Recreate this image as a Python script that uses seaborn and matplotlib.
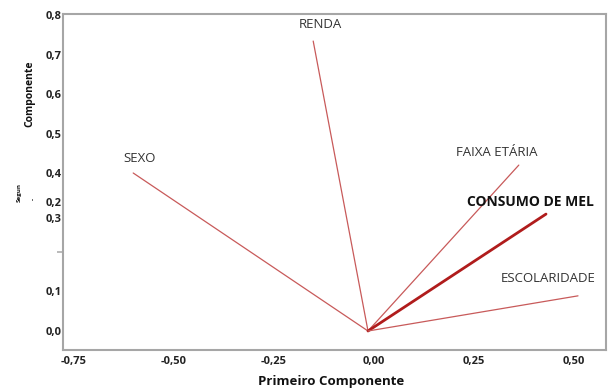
import numpy as np
import pandas as pd
import matplotlib
matplotlib.use("Agg")
import matplotlib.pyplot as plt
import matplotlib.transforms as mtransforms
import seaborn as sns

# ---- data ----
variables = ["RENDA", "SEXO", "FAIXA ETÁRIA", "CONSUMO DE MEL", "ESCOLARIDADE"]
pc1 = [-0.137, -0.587, 0.377, 0.445, 0.525]
pc2 = [0.734, 0.400, 0.420, 0.296, 0.089]
x_ticks = [-0.75, -0.50, -0.25, 0.00, 0.25, 0.50]
x_tick_labels = ["-0,75", "-0,50", "-0,25", "0,00", "0,25", "0,50"]
y_ticks = [0.0, 0.1, 0.2, 0.3, 0.4, 0.5, 0.6, 0.7, 0.8]
y_tick_labels = ["0,0", "0,1", "", "", "0,4", "0,5", "0,6", "0,7", "0,8"]
y_loose_labels = ["0,2", "0,3"]

sns.set_theme(style="white")
plt.rcParams["font.family"] = ["Open Sans", "DejaVu Sans"]

fig = plt.figure(figsize=(6.11, 3.92), dpi=100)
ax = fig.add_axes([63/611, 1-350/392, (606-63)/611, (350-14)/392])

rows = []
for v, a, b in zip(variables, pc1, pc2):
    rows.append({"var": v, "pc1": 0.0, "pc2": 0.0, "ord": 0})
    rows.append({"var": v, "pc1": a, "pc2": b, "ord": 1})
df = pd.DataFrame(rows)

# label offsets in pixels (style/positioning)
offsets = {
    "RENDA": (7, 17),
    "SEXO": (6, 15),
    "FAIXA ETÁRIA": (-22, 13),
    "CONSUMO DE MEL": (-16, 12),
    "ESCOLARIDADE": (-30, 17),
}

for v in variables:
    sub = df[df["var"] == v]
    bold = v == "CONSUMO DE MEL"
    sns.lineplot(data=sub, x="pc1", y="pc2", ax=ax, sort=False, estimator=None,
                 color="#b01c1c" if bold else "#c85a5a",
                 lw=2.0 if bold else 0.9)
    end = sub[sub["ord"] == 1].iloc[0]
    ax.annotate(v, xy=(end["pc1"], end["pc2"]), xytext=offsets[v],
                textcoords="offset pixels", ha="center", va="center",
                fontsize=10 if bold else 9.5,
                fontweight="bold" if bold else "normal",
                color="#111111" if bold else "#333333")

ax.set_xlim((63-368)/400, (606-368)/400)
ax.set_ylim((331-350)/395, (331-14)/395)

ax.set_xticks(x_ticks)
ax.set_xticklabels(x_tick_labels, fontsize=8, fontweight="bold", color="#222222")
ax.set_yticks(y_ticks)
ax.set_yticklabels(y_tick_labels, fontsize=8, fontweight="bold", color="#222222")
ax.tick_params(axis="both", which="major", length=0)
ax.tick_params(axis="x", pad=4)
ax.tick_params(axis="y", pad=1)
ax.yaxis.remove_overlapping_locs = False
ax.set_yticks([0.2], minor=True)
ax.yaxis.set_tick_params(which="minor", length=4, width=1.3, color="#b4b4b4",
                         direction="out", left=True)

shift = mtransforms.ScaledTranslation(6/100, 0, fig.dpi_scale_trans)
for lbl in ax.get_xticklabels():
    lbl.set_transform(lbl.get_transform() + shift)

# misplaced "0,2" and "0,3" labels (pixel rows 203 and 219)
for txt, py in zip(y_loose_labels, [203, 219]):
    ax.annotate(txt, xy=(0, (331-py)/395), xycoords=("axes fraction", "data"),
                xytext=(-1, 0), textcoords="offset pixels", ha="right", va="center",
                fontsize=8, fontweight="bold", color="#222222")

ax.set_xlabel("")
ax.set_ylabel("")
for s in ax.spines.values():
    s.set_color("#a6a6a6")
    s.set_linewidth(1.5)

fig.text(331/611, 1-382/392, "Primeiro Componente", ha="center", va="center",
         fontsize=9.5, fontweight="bold", color="#111111")
fig.text(30/611, 1-94/392, "Componente", ha="center", va="center", rotation=90,
         fontsize=7.5, fontweight="bold", color="#111111")
fig.text(19/611, 1-192/392, "Segun", ha="center", va="center", rotation=90,
         fontsize=4.5, fontweight="bold", color="#111111")
fig.text(33/611, 1-199/392, "-", ha="center", va="center", rotation=90,
         fontsize=4.5, fontweight="bold", color="#111111")

fig.savefig("out.png", dpi=100)
